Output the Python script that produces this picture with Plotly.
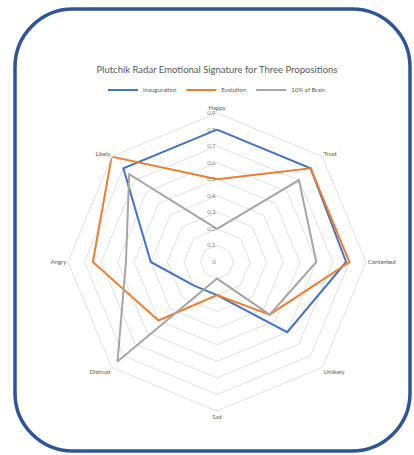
import plotly.graph_objects as go

categories = ["Happy", "Trust", "Contented", "Unlikely", "Sad", "Distrust", "Angry", "Likely"]
inauguration = [0.8, 0.8, 0.78, 0.6, 0.2, 0.2, 0.4, 0.8]
evolution = [0.5, 0.8, 0.8, 0.45, 0.2, 0.5, 0.75, 0.9]
brain10 = [0.2, 0.7, 0.6, 0.45, 0.1, 0.85, 0.55, 0.75]
radial_ticks = [0, 0.1, 0.2, 0.3, 0.4, 0.5, 0.6, 0.7, 0.8, 0.9]
series_names = ["Inauguration", "Evolution", "10% of Brain"]
series_colors = ["#4472C4", "#ED7D31", "#A5A5A5"]

W, H = 414, 455

fig = go.Figure()
for name, vals, col in zip(series_names, [inauguration, evolution, brain10], series_colors):
    fig.add_trace(go.Scatterpolar(
        r=vals + vals[:1], theta=categories + categories[:1],
        mode="lines", name=name,
        line=dict(color=col, width=2),
    ))

def px(x):
    return x / W

def py(y):
    return 1 - y / H

# rounded frame
x0, x1, y0, y1, rad = 15, 410, 9, 451, 58
k = 0.5523 * rad
path = (
    f"M {px(x0+rad)},{py(y0)} L {px(x1-rad)},{py(y0)} "
    f"C {px(x1-rad+k)},{py(y0)} {px(x1)},{py(y0+rad-k)} {px(x1)},{py(y0+rad)} "
    f"L {px(x1)},{py(y1-rad)} "
    f"C {px(x1)},{py(y1-rad+k)} {px(x1-rad+k)},{py(y1)} {px(x1-rad)},{py(y1)} "
    f"L {px(x0+rad)},{py(y1)} "
    f"C {px(x0+rad-k)},{py(y1)} {px(x0)},{py(y1-rad+k)} {px(x0)},{py(y1-rad)} "
    f"L {px(x0)},{py(y0+rad)} "
    f"C {px(x0)},{py(y0+rad-k)} {px(x0+rad-k)},{py(y0)} {px(x0+rad)},{py(y0)} Z"
)

cx, cy, R = 217, 262, 149
fig.update_layout(
    width=W, height=H,
    margin=dict(l=0, r=0, t=0, b=0),
    paper_bgcolor="white",
    font=dict(family="Lato, Open Sans, sans-serif", color="#595959"),
    title=dict(text="Plutchik Radar Emotional Signature for Three Propositions",
               x=px(217), xanchor="center", y=py(70), yanchor="middle",
               font=dict(size=9.5, color="#595959")),
    showlegend=True,
    legend=dict(orientation="h", x=px(217), xanchor="center", y=py(90), yanchor="middle",
                font=dict(size=6, color="#595959"), itemwidth=30,
                bgcolor="rgba(0,0,0,0)", tracegroupgap=0),
    polar=dict(
        domain=dict(x=[px(cx - R), px(cx + R)], y=[py(cy + R), py(cy - R)]),
        bgcolor="white",
        gridshape="linear",
        radialaxis=dict(range=[0, 0.9], tickvals=radial_ticks,
                        ticktext=[("0" if v == 0 else f"{v:.1f}") for v in radial_ticks],
                        angle=90, tickangle=90, side="counterclockwise",
                        showline=False, ticks="", gridcolor="#E0E0E0", gridwidth=1,
                        tickfont=dict(size=6, color="#7F7F7F")),
        angularaxis=dict(rotation=90, direction="clockwise", showgrid=False,
                         showline=True, linecolor="#E0E0E0", linewidth=1, ticks="",
                         tickfont=dict(size=6, color="#595959")),
    ),
    shapes=[dict(type="path", path=path, xref="paper", yref="paper",
                 line=dict(color="#2F5597", width=3.5), layer="above")],
)

fig.write_html("out.html", config={"displayModeBar": False},
               post_script="document.body.style.margin='0';")
